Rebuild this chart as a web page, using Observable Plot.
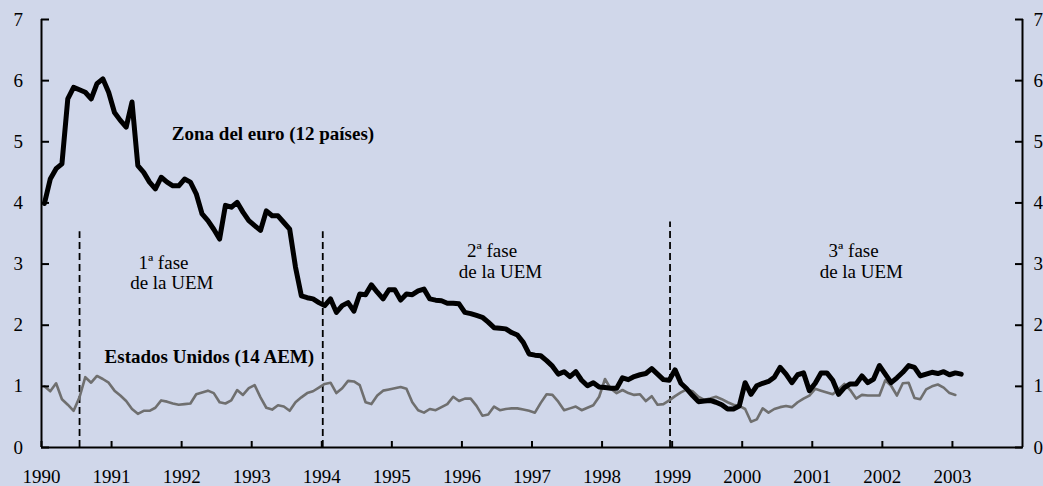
<!DOCTYPE html>
<html><head><meta charset="utf-8">
<script src="https://cdn.jsdelivr.net/npm/d3@7"></script>
<script src="https://cdn.jsdelivr.net/npm/@observablehq/plot@0.6"></script>
<style>html,body{margin:0;padding:0;background:#d0d7ea;overflow:hidden}</style>
</head><body><div id="chart"></div>
<script>
const startYear = 1990;
// Zona del euro (12 países), monthly from Jan 1990
const euroValues = [
3.99, 4.39, 4.56, 4.64, 5.70, 5.89, 5.85, 5.81, 5.70, 5.95,
6.03, 5.81, 5.48, 5.35, 5.24, 5.65, 4.61, 4.50, 4.34, 4.23,
4.42, 4.34, 4.28, 4.28, 4.39, 4.34, 4.15, 3.82, 3.71, 3.57,
3.41, 3.96, 3.93, 4.01, 3.85, 3.71, 3.63, 3.55, 3.87, 3.79,
3.79, 3.68, 3.57, 2.95, 2.48, 2.45, 2.43, 2.37, 2.32, 2.43,
2.21, 2.32, 2.37, 2.23, 2.51, 2.50, 2.66, 2.54, 2.43, 2.58,
2.58, 2.41, 2.51, 2.50, 2.56, 2.59, 2.43, 2.41, 2.40, 2.36,
2.36, 2.35, 2.21, 2.19, 2.16, 2.13, 2.05, 1.96, 1.95, 1.94,
1.88, 1.84, 1.72, 1.53, 1.51, 1.50, 1.42, 1.33, 1.20, 1.24,
1.16, 1.24, 1.10, 1.01, 1.06, 0.99, 0.98, 0.97, 0.97, 1.14,
1.11, 1.16, 1.19, 1.21, 1.29, 1.20, 1.11, 1.10, 1.27, 1.05,
0.96, 0.85, 0.75, 0.76, 0.77, 0.74, 0.70, 0.63, 0.63, 0.68,
1.06, 0.87, 1.01, 1.05, 1.08, 1.15, 1.31, 1.20, 1.06, 1.19,
1.22, 0.93, 1.05, 1.22, 1.22, 1.10, 0.87, 0.98, 1.04, 1.04,
1.17, 1.06, 1.12, 1.34, 1.20, 1.06, 1.14, 1.23, 1.34, 1.31,
1.17, 1.20, 1.23, 1.21, 1.24, 1.19, 1.22, 1.20
];
// Estados Unidos (14 AEM), monthly from Jan 1990
const usValues = [
1.00, 0.92, 1.05, 0.79, 0.70, 0.60, 0.82, 1.15, 1.06, 1.17,
1.12, 1.06, 0.93, 0.85, 0.76, 0.63, 0.55, 0.60, 0.60, 0.65,
0.77, 0.75, 0.72, 0.70, 0.71, 0.72, 0.87, 0.90, 0.93, 0.89,
0.74, 0.72, 0.77, 0.94, 0.86, 0.97, 1.02, 0.82, 0.65, 0.62,
0.69, 0.67, 0.60, 0.74, 0.82, 0.89, 0.92, 0.98, 1.04, 1.06,
0.89, 0.97, 1.09, 1.08, 1.02, 0.74, 0.71, 0.85, 0.93, 0.95,
0.97, 0.99, 0.96, 0.74, 0.61, 0.57, 0.63, 0.61, 0.66, 0.71,
0.83, 0.76, 0.80, 0.80, 0.68, 0.52, 0.54, 0.67, 0.61, 0.63,
0.64, 0.64, 0.62, 0.60, 0.57, 0.73, 0.87, 0.86, 0.75, 0.61,
0.64, 0.67, 0.61, 0.65, 0.69, 0.83, 1.12, 0.96, 0.89, 0.94,
0.89, 0.86, 0.87, 0.76, 0.84, 0.70, 0.71, 0.77, 0.84, 0.90,
0.95, 0.92, 0.83, 0.78, 0.80, 0.83, 0.79, 0.74, 0.70, 0.68,
0.63, 0.42, 0.46, 0.64, 0.57, 0.63, 0.66, 0.68, 0.66, 0.74,
0.80, 0.85, 0.96, 0.93, 0.90, 0.87, 0.95, 1.04, 0.94, 0.80,
0.86, 0.85, 0.85, 0.85, 1.10, 1.01, 0.85, 1.05, 1.06, 0.81,
0.79, 0.95, 1.00, 1.03, 0.98, 0.89, 0.86
];
const yearTicks = d3.range(1990, 2004);
const valueTicks = d3.range(0, 8);
const phaseDates = [1990.543, 1994.014, 1998.97];
const phaseTops = [3.53, 3.53, 3.69];
const noteTexts = ["1ª fase", "de la UEM", "2ª fase", "de la UEM", "3ª fase", "de la UEM"];
const noteX = [1991.74, 1991.86, 1996.43, 1996.55, 2001.59, 2001.70];
const noteY = [3.02, 2.70, 3.22, 2.88, 3.22, 2.88];
const seriesNames = ["Zona del euro (12 países)", "Estados Unidos (14 AEM)"];
const seriesNameX = [1991.86, 1990.90];
const seriesNameY = [5.13, 1.48];

const toRows = vals => vals.map((v, i) => ({t: startYear + (i + 0.5) / 12, v}));
const euroRows = toRows(euroValues);
const usRows = toRows(usValues);
const phaseRows = phaseDates.map((t, i) => ({t, top: phaseTops[i]}));
const notes = noteTexts.map((s, i) => ({s, x: noteX[i], y: noteY[i]}));
const names = seriesNames.map((s, i) => ({s, x: seriesNameX[i], y: seriesNameY[i]}));

const chart = Plot.plot({
  width: 1043, height: 486,
  marginLeft: 41, marginRight: 21, marginTop: 19, marginBottom: 39,
  style: {background: "#d0d7ea", fontFamily: "'Liberation Serif', 'Times New Roman', serif", fontSize: "19px", color: "#000"},
  x: {domain: [1990, 2004]},
  y: {domain: [0, 7]},
  marks: [
    Plot.ruleX(phaseRows, {x: "t", y1: 0, y2: "top", stroke: "#000", strokeWidth: 1.8, strokeDasharray: "7,4"}),
    Plot.line(usRows, {x: "t", y: "v", stroke: "#6f6f6f", strokeWidth: 2.6, strokeLinejoin: "round"}),
    Plot.line(euroRows, {x: "t", y: "v", stroke: "#000", strokeWidth: 5, strokeLinejoin: "round", strokeLinecap: "round"}),
    Plot.ruleX([1990, 2004], {stroke: "#000", strokeWidth: 2}),
    Plot.ruleY([0], {stroke: "#000", strokeWidth: 2}),
    Plot.axisY(valueTicks, {anchor: "left", tickSize: -8, tickPadding: 26.5, strokeWidth: 2, label: null, tickFormat: d => String(d)}),
    Plot.axisY(valueTicks, {anchor: "right", tickSize: -8, tickPadding: 19, strokeWidth: 2, label: null, tickFormat: d => String(d)}),
    Plot.axisX(yearTicks, {anchor: "bottom", tickSize: -6, tickPadding: 28, strokeWidth: 2, label: null, tickFormat: d => String(d)}),
    Plot.text(notes, {x: "x", y: "y", text: "s", fontSize: 19}),
    Plot.text(names, {x: "x", y: "y", text: "s", fontSize: 19, fontWeight: "bold", textAnchor: "start"})
  ]
});
document.getElementById("chart").appendChild(chart);
</script>
</body></html>
